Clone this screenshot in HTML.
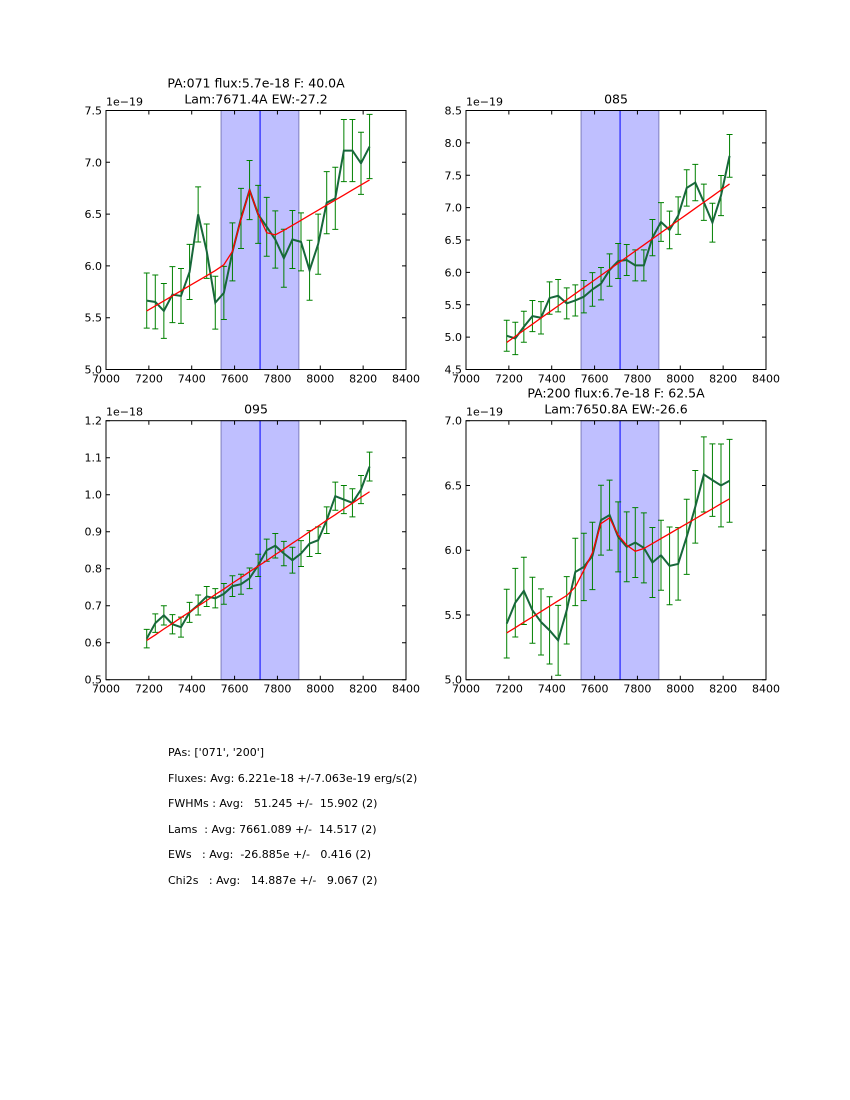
<!DOCTYPE html>
<html><head><meta charset="utf-8"><style>
body{margin:0;background:#fff;width:850px;height:1100px;overflow:hidden;font-family:"DejaVu Sans","Liberation Sans",sans-serif}
#stats{position:absolute;left:168px;top:740px;font-size:11px;white-space:pre;line-height:25.6px;color:#000}
</style></head><body>
<svg id="fig" width="850" height="1100" style="position:absolute;left:0;top:0"></svg>
<div id="stats"><div>PAs: ['071', '200']</div><div>Fluxes: Avg: 6.221e-18 +/-7.063e-19 erg/s(2)</div><div>FWHMs : Avg:   51.245 +/-  15.902 (2)</div><div>Lams  : Avg: 7661.089 +/-  14.517 (2)</div><div>EWs   : Avg:  -26.885e +/-   0.416 (2)</div><div>Chi2s   : Avg:   14.887e +/-   9.067 (2)</div></div>
<script>
const wavelengths=[7190,7230,7270,7310,7350,7390,7430,7470,7510,7550,7590,7630,7670,7710,7750,7790,7830,7870,7910,7950,7990,8030,8070,8110,8150,8190,8230];
const xTicks=[7000,7200,7400,7600,7800,8000,8200,8400];
const bandRange=[7537,7900];
const centerLine=[7719];
// panel 071
const flux071=[5.665,5.652,5.565,5.723,5.71,5.942,6.497,6.142,5.645,5.739,6.135,6.458,6.732,6.497,6.377,6.255,6.074,6.255,6.232,5.958,6.21,6.61,6.652,7.113,7.113,6.99,7.152];
const err071=[0.266,0.26,0.265,0.27,0.265,0.266,0.266,0.263,0.255,0.256,0.28,0.29,0.285,0.28,0.284,0.276,0.28,0.28,0.28,0.29,0.29,0.3,0.3,0.3,0.3,0.3,0.31];
const fit071=[5.565,5.614,5.662,5.711,5.76,5.809,5.857,5.906,5.955,6.011,6.14,6.45,6.73,6.5,6.32,6.3,6.343,6.392,6.44,6.489,6.538,6.587,6.635,6.684,6.733,6.781,6.83];
const yTicks071=[5.0,5.5,6.0,6.5,7.0,7.5];
// panel 085
const flux085=[5.021,4.979,5.16,5.325,5.299,5.603,5.639,5.521,5.567,5.624,5.737,5.825,6.036,6.175,6.191,6.108,6.108,6.536,6.778,6.655,6.876,7.304,7.387,7.083,6.768,7.186,7.799];
const err085=[0.24,0.25,0.24,0.24,0.25,0.25,0.25,0.24,0.24,0.25,0.26,0.25,0.25,0.27,0.24,0.24,0.24,0.28,0.3,0.29,0.29,0.28,0.28,0.28,0.3,0.31,0.33];
const fit085=[4.918,5.012,5.106,5.2,5.295,5.389,5.483,5.577,5.671,5.765,5.859,5.954,6.048,6.142,6.236,6.33,6.424,6.518,6.613,6.707,6.801,6.895,6.989,7.083,7.177,7.272,7.366];
const yTicks085=[4.5,5.0,5.5,6.0,6.5,7.0,7.5,8.0,8.5];
// panel 095
const flux095=[0.611,0.653,0.674,0.65,0.642,0.682,0.702,0.725,0.72,0.732,0.753,0.758,0.774,0.809,0.85,0.862,0.841,0.823,0.841,0.868,0.877,0.931,0.996,0.987,0.978,1.014,1.076];
const err095=[0.025,0.025,0.026,0.026,0.027,0.027,0.027,0.027,0.026,0.028,0.028,0.027,0.028,0.03,0.03,0.033,0.033,0.035,0.035,0.035,0.036,0.036,0.038,0.038,0.038,0.038,0.039];
const fit095=[0.606,0.621,0.637,0.652,0.668,0.683,0.699,0.714,0.73,0.745,0.761,0.776,0.792,0.807,0.822,0.838,0.853,0.869,0.884,0.9,0.915,0.931,0.946,0.962,0.977,0.993,1.008];
const yTicks095=[0.5,0.6,0.7,0.8,0.9,1.0,1.1,1.2];
// panel 200
const flux200=[5.433,5.595,5.686,5.536,5.446,5.381,5.304,5.536,5.832,5.871,5.956,6.232,6.271,6.103,6.026,6.059,6.018,5.905,5.961,5.879,5.894,6.103,6.335,6.585,6.541,6.5,6.536];
const err200=[0.265,0.265,0.26,0.255,0.255,0.26,0.27,0.26,0.26,0.26,0.26,0.27,0.27,0.27,0.27,0.27,0.27,0.27,0.27,0.3,0.28,0.29,0.28,0.29,0.28,0.32,0.32];
const fit200=[5.361,5.402,5.444,5.485,5.526,5.568,5.609,5.65,5.716,5.845,5.98,6.206,6.25,6.116,6.039,5.992,6.013,6.051,6.09,6.128,6.167,6.205,6.243,6.282,6.32,6.359,6.397];
const yTicks200=[5.0,5.5,6.0,6.5,7.0];

const NS='http://www.w3.org/2000/svg';
const fig=document.getElementById('fig');
function mk(tag,attrs,parent){const e=document.createElementNS(NS,tag);for(const k in attrs)e.setAttribute(k,attrs[k]);(parent||fig).appendChild(e);return e;}
function txt(s,x,y,anchor,size,parent){const t=mk('text',{x:x,y:y,'text-anchor':anchor,'font-size':size,'font-family':'DejaVu Sans, Liberation Sans, sans-serif',fill:'#000'},parent);t.textContent=s;return t;}

function panel(id,L,T,yTicks,dec,expo,flux,err,fit,titles){
  const W=300,H=259;
  const g=mk('g',{});
  
  
  const y0=yTicks[0],y1=yTicks[yTicks.length-1];
  const sx=v=>L+(v-7000)/1400*W;
  const sy=v=>T+H-(v-y0)/(y1-y0)*H;
  const band=mk('rect',{x:sx(bandRange[0]),y:T,width:sx(bandRange[1])-sx(bandRange[0]),height:H,fill:'#bfbfff',stroke:'#7f7fbf','stroke-width':1},g);
  
  
  const cl=mk('line',{x1:sx(centerLine[0]),x2:sx(centerLine[0]),y1:T,y2:T+H,stroke:'#0000ff','stroke-width':1},g);
  
  
  const eg=mk('g',{stroke:'#008000','stroke-width':1},g);
  
  
  wavelengths.forEach((w,i)=>{
    const x=sx(w),a=sy(flux[i]+err[i]),b=sy(flux[i]-err[i]);
    const e=mk('path',{d:`M${x},${a}V${b}M${x-3},${a}H${x+3}M${x-3},${b}H${x+3}`,fill:'none'},eg);
    
    
  });
  const dl=mk('polyline',{points:wavelengths.map((w,i)=>sx(w)+','+sy(flux[i])).join(' '),fill:'none',stroke:'#17673a','stroke-width':2},g);
  
  
  const fl=mk('polyline',{points:wavelengths.map((w,i)=>sx(w)+','+sy(fit[i])).join(' '),fill:'none',stroke:'#ff0000','stroke-width':1.3},g);
  
  
  const fr=mk('rect',{x:L,y:T,width:W,height:H,fill:'none',stroke:'#000','stroke-width':1},g);
  
  
  xTicks.forEach(v=>{
    const x=sx(v);
    mk('path',{d:`M${x},${T+H}v-4M${x},${T}v4`,stroke:'#000'},g);
    const t=txt(String(v),x,T+H+13,'middle',11,g);
    
    
  });
  yTicks.forEach(v=>{
    const y=sy(v);
    mk('path',{d:`M${L},${y}h4M${L+W},${y}h-4`,stroke:'#000'},g);
    const t=txt(v.toFixed(dec),L-4,y+4,'end',11,g);
    
    
  });
  const ex=txt(expo,L,T-5,'start',11,g);
  
  
  titles.forEach((s,k)=>{
    const t=txt(s,L+W/2,T-(titles.length-k)*16+9,'middle',12.5,g);
    
    
  });
}
panel('071',106,110.5,yTicks071,1,'1e\u221219',flux071,err071,fit071,['PA:071 flux:5.7e-18 F: 40.0A','Lam:7671.4A EW:-27.2']);
panel('085',466,110.5,yTicks085,1,'1e\u221219',flux085,err085,fit085,['085']);
panel('095',106,420.7,yTicks095,1,'1e\u221218',flux095,err095,fit095,['095']);
panel('200',466,420.7,yTicks200,1,'1e\u221219',flux200,err200,fit200,['PA:200 flux:6.7e-18 F: 62.5A','Lam:7650.8A EW:-26.6']);
</script>
</body></html>
